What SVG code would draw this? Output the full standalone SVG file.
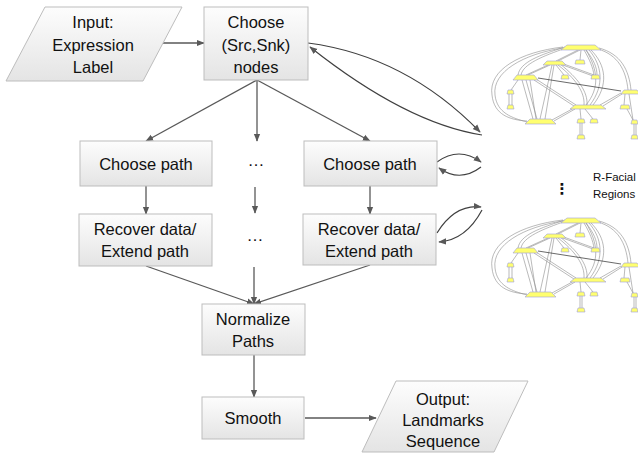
<svg xmlns="http://www.w3.org/2000/svg" xmlns:xlink="http://www.w3.org/1999/xlink" width="638" height="457" viewBox="0 0 638 457">
<defs>
<style>
.box{fill:url(#g);stroke:#bdbdbd;stroke-width:1}
.t{font-family:"Liberation Sans",Arial,sans-serif;font-size:16.5px;fill:#111111;text-anchor:middle}
.c{fill:none;stroke:#595959;stroke-width:1.3;marker-end:url(#ah)}
.cv{fill:none;stroke:#404040;stroke-width:1.2;marker-end:url(#ah)}
.gn{fill:#ffff70;stroke:#a0a0d8;stroke-width:0.6}
.ge{fill:none;stroke:#8c8c8c;stroke-width:0.6}
.gd{fill:none;stroke:#444;stroke-width:0.8}
.s{font-family:"Liberation Sans",Arial,sans-serif;font-size:11.5px;fill:#111111}
.d{font-family:"Liberation Sans",Arial,sans-serif;font-size:17px;fill:#111111;text-anchor:middle}
</style>
<linearGradient id="g" x1="0" y1="0" x2="0" y2="1">
<stop offset="0" stop-color="#fdfdfd"/>
<stop offset="1" stop-color="#e4e4e4"/>
</linearGradient>
<marker id="ah" viewBox="0 0 10 10" refX="9" refY="5" markerWidth="8" markerHeight="8" markerUnits="userSpaceOnUse" orient="auto">
<path d="M0,1 L10,5 L0,9 z" fill="#595959"/>
</marker>
<g id="graph">
<g class="ge">
<path d="M563,47 C520,52 488,70 492,95 C494,115 510,120 527,121"/>
<path d="M563,48 C523,54 492,72 495,95 C497,113 512,118 527,122"/>
<path d="M565,47 C540,55 520,62 518,75"/>
<path d="M566,48 C543,56 523,64 521,75"/>
<path d="M578,50 L556,61"/><path d="M580,50 L558,61"/>
<path d="M581,50 L580,60"/>
<path d="M584,50 C590,60 593,68 594,75"/><path d="M586,50 C594,60 597,68 597,75"/>
<path d="M589,50 C602,65 605,85 590,105"/><path d="M591,50 C606,65 609,85 593,105"/>
<path d="M586,50 C598,70 600,88 586,105"/>
<path d="M598,49 C618,55 626,70 628,90"/><path d="M599,48 C621,54 629,70 631,90"/>
<path d="M548,65 L526,75"/><path d="M550,65 L528,75"/>
<path d="M556,65 L564,75"/>
<path d="M560,64 L593,76"/><path d="M561,63 L594,75"/>
<path d="M552,65 L540,119"/><path d="M554,65 L545,119"/>
<path d="M558,65 C575,78 585,92 584,105"/><path d="M560,64 C578,78 588,92 587,105"/>
<path d="M518,80 L511,90"/>
<path d="M509,94 L509,105"/><path d="M512,94 L512,105"/>
<path d="M522,80 L533,119"/><path d="M526,80 L537,119"/><path d="M530,80 L536,119"/>
<path d="M534,80 L574,106"/><path d="M536,79 L576,105"/>
<path d="M621,93 L600,105"/><path d="M622,94 L603,106"/>
<path d="M625,94 L624,105"/><path d="M629,94 L633,120"/><path d="M627,109 L633,120"/><path d="M634,124 L634,135"/><path d="M636,124 L636,135"/>
<path d="M574,108 L552,120"/><path d="M575,109 L554,121"/>
<path d="M580,109 L581,119"/><path d="M585,109 L593,119"/><path d="M580,123 L580,135"/><path d="M582,123 L582,135"/>
</g>
<path class="gd" d="M538,78 L621,91"/>
<g class="gn">
<path d="M561,50 L567,45 L595,45 L601,50 Z"/>
<path d="M543,65 L547,61 L562,61 L566,65 Z"/>
<path d="M575,64 L576,60 L584,60 L585,64 Z"/>
<path d="M513,80 L517,75 L534,75 L538,80 Z"/>
<path d="M561,79 L562,75 L568,75 L569,79 Z"/>
<path d="M591,79 L592,75 L599,75 L600,79 Z"/>
<path d="M507,94 L508,90 L513,90 L514,94 Z"/>
<path d="M507,109 L508,105 L513,105 L514,109 Z"/>
<path d="M621,94 L624,90 L637,90 L640,94 Z"/>
<path d="M570,109 L575,105 L601,105 L606,109 Z"/>
<path d="M620,109 L621,105 L629,105 L630,109 Z"/>
<path d="M525,124 L530,119 L551,119 L556,124 Z"/>
<path d="M577,123 L578,119 L584,119 L585,123 Z"/>
<path d="M590,123 L591,119 L597,119 L598,123 Z"/>
<path d="M577,139 L578,135 L584,135 L585,139 Z"/>
<path d="M631,124 L632,120 L637,120 L638,124 Z"/>
<path d="M631,139 L632,135 L637,135 L638,139 Z"/>
</g>
</g>
</defs>
<rect width="638" height="457" fill="#ffffff"/>

<g id="connectors">
<path class="c" d="M163,43 L204,43"/>
<path class="c" d="M257,80 L146,141"/>
<path class="c" d="M257,80 L257,141"/>
<path class="c" d="M257,80 L370,141"/>
<path class="c" d="M146,186 L146,214"/>
<path class="c" d="M255,187 L255,213"/>
<path class="c" d="M370,186 L370,214"/>
<path class="c" d="M146,266 L254,304"/>
<path class="c" d="M254,267 L254,304"/>
<path class="c" d="M370,265 L254,304"/>
<path class="c" d="M254,355 L254,397"/>
<path class="c" d="M305,418 L376,418"/>
<path class="cv" d="M308,43 Q406,56 480,132"/>
<path class="cv" d="M482,135 Q406,123 310,47"/>
<path class="cv" d="M437,162 Q459,146 481,162"/>
<path class="cv" d="M481,167 Q460,183 439,168"/>
<path class="cv" d="M437,233 Q455,204 481,207"/>
<path class="cv" d="M482,210 Q466,240 439,242"/>
</g>

<g id="input">
<path class="box" d="M45,7 L182,7 L143,81 L6,81 Z"/>
<text class="t" x="93" y="28">Input:</text>
<text class="t" x="93" y="51">Expression</text>
<text class="t" x="93" y="73">Label</text>
</g>
<g id="choose-nodes">
<rect class="box" x="204" y="7" width="104" height="73"/>
<text class="t" x="256" y="28">Choose</text>
<text class="t" x="256" y="51">(Src,Snk)</text>
<text class="t" x="256" y="73">nodes</text>
</g>
<g id="choose-path-1">
<rect class="box" x="80" y="141" width="132" height="45"/>
<text class="t" x="146" y="169.5">Choose path</text>
</g>
<g id="dots-1"><text class="d" x="256" y="166">…</text></g>
<g id="choose-path-2">
<rect class="box" x="304" y="141" width="133" height="45"/>
<text class="t" x="370" y="169.5">Choose path</text>
</g>
<g id="recover-1">
<rect class="box" x="79" y="214" width="133" height="52"/>
<text class="t" x="145" y="235">Recover data/</text>
<text class="t" x="145" y="257">Extend path</text>
</g>
<g id="dots-2"><text class="d" x="255" y="241">…</text></g>
<g id="recover-2">
<rect class="box" x="303" y="214" width="133" height="51"/>
<text class="t" x="369" y="235">Recover data/</text>
<text class="t" x="369" y="257">Extend path</text>
</g>
<g id="normalize">
<rect class="box" x="202" y="304" width="103" height="51"/>
<text class="t" x="253" y="325">Normalize</text>
<text class="t" x="253" y="347">Paths</text>
</g>
<g id="smooth">
<rect class="box" x="202" y="397" width="102" height="42"/>
<text class="t" x="253" y="424">Smooth</text>
</g>
<g id="output">
<path class="box" d="M396,381 L528,381 L494,452 L362,452 Z"/>
<text class="t" x="443" y="405">Output:</text>
<text class="t" x="443" y="426">Landmarks</text>
<text class="t" x="443" y="447">Sequence</text>
</g>

<g id="facial-graph-1"><use xlink:href="#graph"/></g>
<g id="facial-graph-2"><use xlink:href="#graph" transform="translate(0,173)"/></g>
<g id="regions-label">
<text x="562" y="194" style="font-family:'DejaVu Sans',sans-serif;font-size:15px;font-weight:bold;fill:#111111;text-anchor:middle">⋮</text>
<text class="s" x="593" y="181">R-Facial</text>
<text class="s" x="593" y="198">Regions</text>
</g>
</svg>
